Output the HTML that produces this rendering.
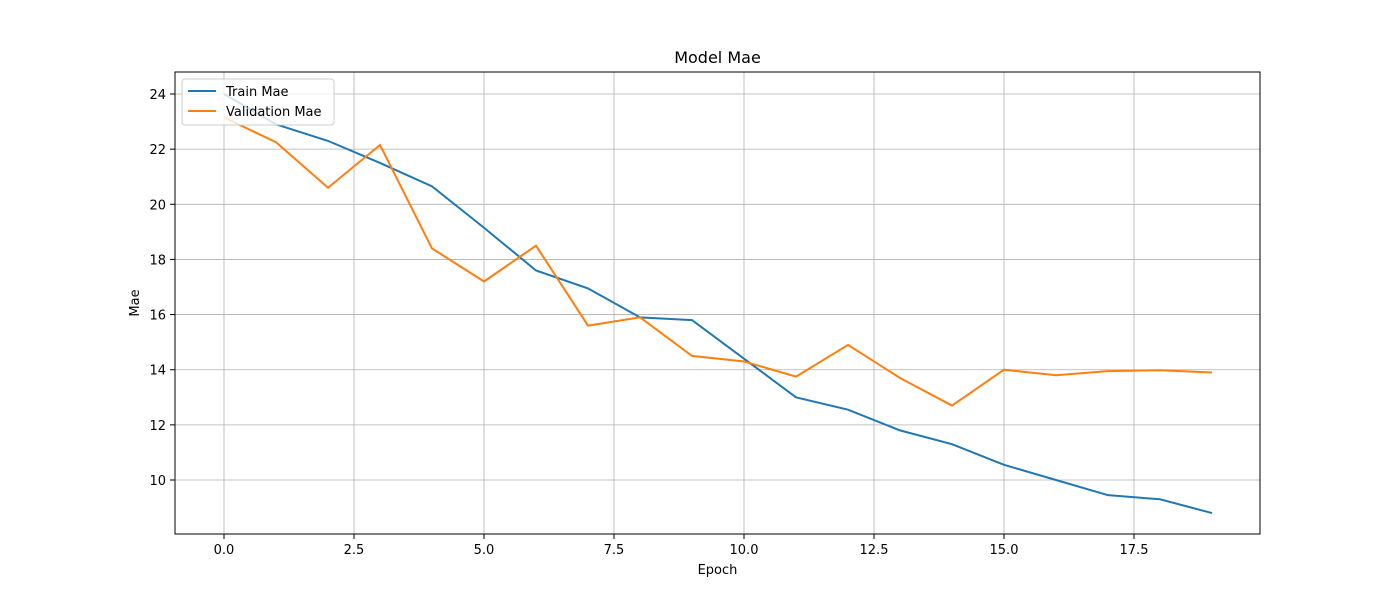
<!DOCTYPE html>
<html><head><meta charset="utf-8"><style>
body{margin:0;background:#fff;font-family:"Liberation Sans","DejaVu Sans",sans-serif;}
svg text{font-family:"DejaVu Sans","Liberation Sans",sans-serif;}
</style></head><body>
<svg id="chart" width="1400" height="600" xmlns="http://www.w3.org/2000/svg">
<rect width="1400" height="600" fill="#fff"/>
<g id="grid"></g><g id="axes"></g><g id="lines"></g><g id="legend"></g>
</svg>
<script>
const epochs=[0,1,2,3,4,5,6,7,8,9,10,11,12,13,14,15,16,17,18,19];
const trainMae=[24.0,22.9,22.3,21.5,20.65,19.15,17.6,16.95,15.9,15.8,14.4,13.0,12.55,11.8,11.3,10.55,10.0,9.45,9.3,8.8];
const valMae=[23.15,22.25,20.6,22.15,18.4,17.2,18.5,15.6,15.9,14.5,14.3,13.75,14.9,13.7,12.7,14.0,13.8,13.95,13.98,13.9];
const xTicks=[0,2.5,5,7.5,10,12.5,15,17.5];
const yTicks=[10,12,14,16,18,20,22,24];
const L=175,R=1260,T=72,B=534;
const xs=v=>224+v*52;
const ys=v=>480-(v-10)*27.571;
const NS="http://www.w3.org/2000/svg";
function mk(tag,attrs,parent,txt){const e=document.createElementNS(NS,tag);for(const k in attrs)e.setAttribute(k,attrs[k]);if(txt!==undefined)e.textContent=txt;document.getElementById(parent).appendChild(e);return e;}
xTicks.forEach(t=>{const x=xs(t);
const g=mk('line',{x1:x,x2:x,y1:T,y2:B,stroke:'#b0b0b0','stroke-width':0.8},'grid');


mk('line',{x1:x,x2:x,y1:B,y2:B+5,stroke:'#000'},'axes');
const l=mk('text',{x:x,y:B+20,'text-anchor':'middle','font-size':13},'axes',t.toFixed(1));

});
yTicks.forEach(t=>{const y=ys(t);
const g=mk('line',{x1:L,x2:R,y1:y,y2:y,stroke:'#b0b0b0','stroke-width':0.8},'grid');


mk('line',{x1:L-5,x2:L,y1:y,y2:y,stroke:'#000'},'axes');
const l=mk('text',{x:L-9,y:y+5,'text-anchor':'end','font-size':13},'axes',String(t));

});
const fr=mk('rect',{x:L,y:T,width:R-L,height:B-T,fill:'none',stroke:'#000','stroke-width':1},'axes');


const ti=mk('text',{x:(L+R)/2,y:63,'text-anchor':'middle','font-size':16},'axes','Model Mae');


const xl=mk('text',{x:(L+R)/2,y:574,'text-anchor':'middle','font-size':13},'axes','Epoch');


const yl=mk('text',{x:139,y:(T+B)/2,'text-anchor':'middle','font-size':13,transform:`rotate(-90 139 ${(T+B)/2})`},'axes','Mae');


function pts(a){return epochs.map((e,i)=>xs(e)+','+ys(a[i])).join(' ');}
const p1=mk('polyline',{points:pts(trainMae),fill:'none',stroke:'#1f77b4','stroke-width':2},'lines');


const p2=mk('polyline',{points:pts(valMae),fill:'none',stroke:'#ff7f0e','stroke-width':2},'lines');


const lb=mk('rect',{x:182,y:79,width:152,height:46,rx:3,fill:'#fff','fill-opacity':0.8,stroke:'#ccc'},'legend');


[['Train Mae','#1f77b4',91],['Validation Mae','#ff7f0e',111]].forEach(([n,c,y])=>{
mk('line',{x1:188,x2:216,y1:y,y2:y,stroke:c,'stroke-width':2},'legend');
const t=mk('text',{x:226,y:y+5,'font-size':13},'legend',n);

});
</script>
</body></html>
